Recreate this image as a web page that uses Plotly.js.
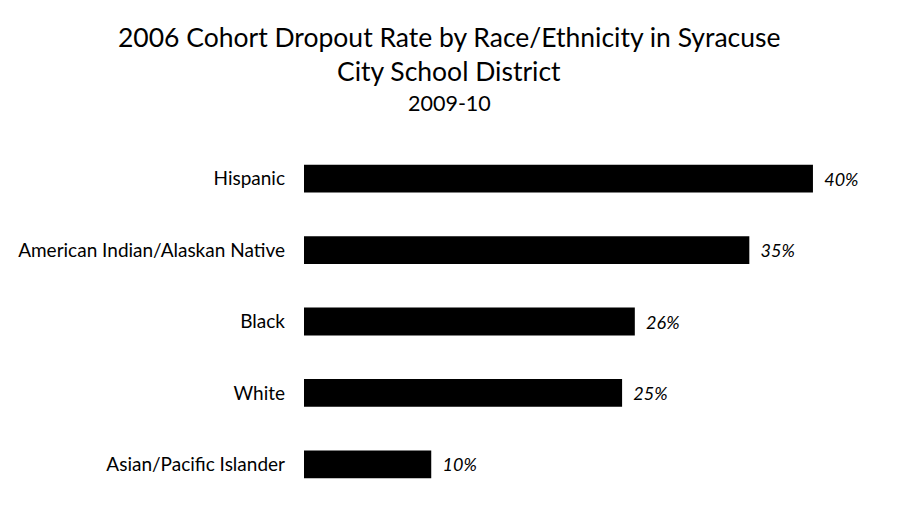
<!DOCTYPE html>
<html>
<head>
<meta charset="utf-8">
<script src="https://cdn.plot.ly/plotly-3.0.1.min.js"></script>
<style>html,body{margin:0;padding:0;background:#fff;}#chart{width:900px;height:523px;}</style>
</head>
<body>
<div id="chart"></div>
<script>
const categories = ["Hispanic", "American Indian/Alaskan Native", "Black", "White", "Asian/Pacific Islander"];
const dropoutRates = [40, 35, 26, 25, 10];
const valueLabels = ["40%", "35%", "26%", "25%", "10%"];
const titleLines = ["2006 Cohort Dropout Rate by Race/Ethnicity in Syracuse", "City School District", "2009-10"];

const FONT = "Lato, 'Open Sans', sans-serif";
const trace = {
  type: "bar",
  orientation: "h",
  y: categories,
  x: dropoutRates,
  marker: {color: "#000000"},
  text: valueLabels.map(s => "\u2002" + s),
  textposition: "outside",
  cliponaxis: false,
  textfont: {family: FONT, size: 18, color: "#000", style: "italic"},
  hoverinfo: "skip"
};

const px2paper = p => (500 - p) / 357;
const layout = {
  width: 900, height: 523,
  margin: {l: 304, r: 20, t: 143, b: 23},
  paper_bgcolor: "#fff", plot_bgcolor: "#fff",
  showlegend: false,
  bargap: 0.61,
  font: {family: FONT, color: "#000"},
  xaxis: {range: [0, 45.27], visible: false, fixedrange: true},
  yaxis: {
    type: "category", autorange: "reversed",
    showline: false, showgrid: false, zeroline: false, ticks: "",
    ticklabelstandoff: 18,
    tickfont: {family: FONT, size: 19, color: "#000"}
  },
  annotations: [
    {text: titleLines[0], xref: "paper", yref: "paper", x: (449 - 304) / 576, y: px2paper(37), xanchor: "center", yanchor: "middle", showarrow: false, font: {family: FONT, size: 26.5, color: "#000"}},
    {text: titleLines[1], xref: "paper", yref: "paper", x: (449 - 304) / 576, y: px2paper(71), xanchor: "center", yanchor: "middle", showarrow: false, font: {family: FONT, size: 26.5, color: "#000"}},
    {text: titleLines[2], xref: "paper", yref: "paper", x: (449 - 304) / 576, y: px2paper(103), xanchor: "center", yanchor: "middle", showarrow: false, font: {family: FONT, size: 21.5, color: "#000"}}
  ]
};

Plotly.newPlot("chart", [trace], layout, {displayModeBar: false, staticPlot: true});
</script>
</body>
</html>
